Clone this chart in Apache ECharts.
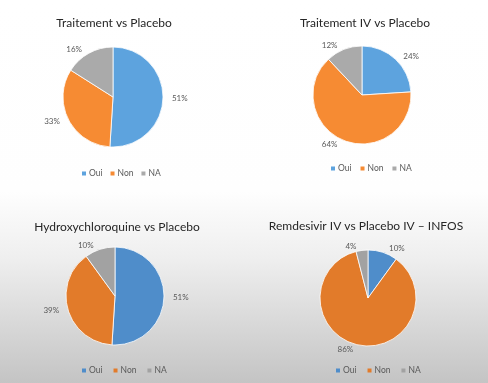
<!DOCTYPE html>
<html><head><meta charset="utf-8">
<script src="https://cdn.jsdelivr.net/npm/echarts@6/dist/echarts.min.js"></script>
<style>html,body{margin:0;padding:0;}#c{width:488px;height:383px;}</style>
</head><body><div id="c"></div>
<script>
const categories = ['Oui', 'Non', 'NA'];
const titles = ['Traitement vs Placebo', 'Traitement IV vs Placebo', 'Hydroxychloroquine vs Placebo', 'Remdesivir IV vs Placebo IV – INFOS'];
const values1 = [51, 33, 16];
const values2 = [24, 64, 12];
const values3 = [51, 39, 10];
const values4 = [10, 86, 4];
const allValues = [values1, values2, values3, values4];

const topColors = ['#5DA3DE', '#F68B33', '#AAAAAA'];
const botColors = ['#4F8DCA', '#E27B2A', '#A2A2A2'];
const panels = [
  {cx: 113, cy: 97, r: 50, tx: 114, ty: 12, lx: 82, ly: 169, colors: topColors, gap: 8},
  {cx: 362, cy: 95, r: 49, tx: 365, ty: 12, lx: 331, ly: 164, colors: topColors, gap: 9},
  {cx: 115, cy: 296, r: 49, tx: 117, ty: 216, lx: 82, ly: 366, colors: botColors, gap: 11},
  {cx: 368, cy: 298, r: 48, tx: 366, ty: 215, lx: 336, ly: 366, colors: botColors, gap: 11}
];
const FONT = 'Lato, "Noto Sans", sans-serif';

const chart = echarts.init(document.getElementById('c'), null, {renderer: 'canvas'});
const option = {
  animation: false,
  graphic: [{
    type: 'rect', z: -10, silent: true,
    shape: {x: 0, y: 0, width: 488, height: 383},
    style: {fill: new echarts.graphic.LinearGradient(0, 0, 0, 1, [
      {offset: 0, color: '#ffffff'},
      {offset: 0.5, color: '#fefefe'},
      {offset: 0.68, color: '#eeeeee'},
      {offset: 1, color: '#c4c4c4'}
    ])}
  }],
  title: panels.map((p, i) => ({
    text: titles[i], left: p.tx - 5, top: p.ty, textAlign: 'center',
    textStyle: {fontFamily: FONT, fontSize: 12, fontWeight: 'normal', color: '#262626'}
  })),
  legend: panels.map((p, i) => ({
    left: p.lx, top: p.ly, padding: 0, itemGap: p.gap,
    itemWidth: 4, itemHeight: 4, icon: 'rect',
    data: categories.map((c, k) => ({name: c, itemStyle: {color: p.colors[k], borderWidth: 0}})),
    textStyle: {fontFamily: FONT, fontSize: 8.5, color: '#595959', padding: [0, 0, 0, -2]},
    selectedMode: false
  })),
  series: panels.map((p, i) => ({
    type: 'pie',
    center: [p.cx, p.cy],
    radius: [0, p.r],
    startAngle: 90,
    clockwise: true,
    itemStyle: {borderColor: '#ffffff', borderWidth: 0.8},
    label: {show: true, position: 'outside', formatter: '{d}%', fontFamily: FONT, fontSize: 8, color: '#595959'},
    labelLine: {show: false, length: 4, length2: 0},
    emphasis: {disabled: true},
    data: categories.map((c, k) => ({name: c, value: allValues[i][k], itemStyle: {color: p.colors[k]}}))
  }))
};
chart.setOption(option);
</script></body></html>
